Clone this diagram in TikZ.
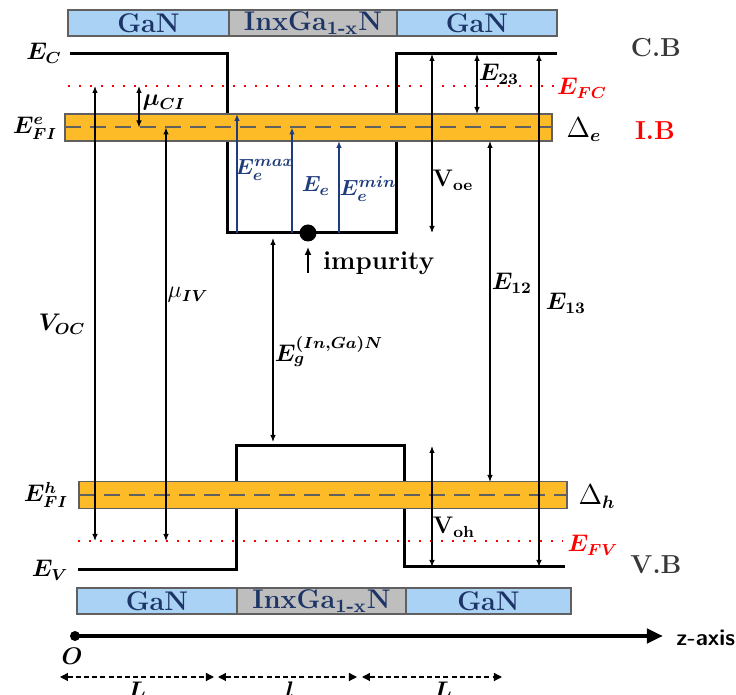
\documentclass[tikz,border=0pt]{standalone}
\usepackage{amsmath,bm}
\usepackage{xcolor}
\usepackage{tikz}
\usetikzlibrary{arrows.meta,positioning,calc}
\definecolor{barblue}{HTML}{AAD2F5}
\definecolor{bargray}{HTML}{BEBEBE}
\definecolor{barline}{HTML}{606060}
\definecolor{bandorange}{HTML}{FDBB27}
\definecolor{inknavy}{HTML}{1C3466}
\definecolor{arrownavy}{HTML}{1F3C7C}
\definecolor{tagblack}{HTML}{383838}
\tikzset{bar/.style={draw=barline,line width=0.8pt,minimum height=13pt,inner sep=0pt,
  outer sep=0pt,font=\fontsize{13.5}{15}\selectfont\bfseries,text=inknavy},
  band/.style={draw=barline,fill=bandorange,line width=0.6pt,minimum height=13.5pt,
  inner sep=0pt,outer sep=0pt},
  midline/.style={draw=barline,line width=1pt,dash pattern=on 8pt off 4.5pt},
  level/.style={line width=1.5pt,line join=miter},
  fermi/.style={red,line width=1.1pt,dash pattern=on 1.2pt off 4.3pt},
  dbl/.style={{Latex[length=3.5pt,width=2.8pt]}-{Latex[length=3.5pt,width=2.8pt]},line width=0.6pt},
  upb/.style={-{Latex[length=3.5pt,width=2.8pt]},line width=0.8pt,draw=arrownavy},
  dimarrow/.style={{Triangle[length=4pt,width=4pt]}-{Triangle[length=4pt,width=4pt]},
  dash pattern=on 2.5pt off 1.6pt,line width=0.6pt},
  lbl/.style={font=\fontsize{11.5}{13}\selectfont,inner sep=1pt},
  bluelbl/.style={font=\fontsize{11}{13}\selectfont,inner sep=0.5pt,text=arrownavy},
  tag/.style={font=\fontsize{13}{15}\selectfont\bfseries}}

\begin{document}
\begin{tikzpicture}[x=0.5pt,y=-0.5pt]
 \useasboundingbox (0,0) rectangle (736,695);
 % quasi Fermi levels
 \draw[fermi] (68,86) -- (556,86);
 \draw[fermi] (78,541) -- (563,541);
 % band edges
 \draw[level] (70,54) -- (228,54) -- (228,233) -- (397,233) -- (397,54) -- (557,54);
 \draw[level] (78,570) -- (237,570) -- (237,446) -- (405,446) -- (405,567) -- (565,567);
 % impurity bands
 \node[band,minimum width=243.5pt] (bande) at (308.5,127.5) {};
 \draw[midline] (bande.west) -- (bande.east);
 \node[band,minimum width=244pt] (bandh) at (323,495) {};
 \draw[midline] (bandh.west) -- (bandh.east);
 % layers
 \node[bar,fill=barblue,minimum width=80.5pt] (tg1) at (148.5,23) {GaN};
 \node[bar,fill=bargray,minimum width=84pt,right=0pt of tg1] (tin) {InxGa\textsubscript{1-x}N};
 \node[bar,fill=barblue,minimum width=80pt,right=0pt of tin] (tg2) {GaN};
 \node[bar,fill=barblue,minimum width=80pt] (bg1) at (157,601) {GaN};
 \node[bar,fill=bargray,minimum width=84.5pt,right=0pt of bg1] (bin) {InxGa\textsubscript{1-x}N};
 \node[bar,fill=barblue,minimum width=82.5pt,right=0pt of bin] (bg2) {GaN};
 % arrow ends
 \coordinate (voct) at (95,86);     \coordinate (vocb) at (95,541);
 \coordinate (muct) at (139,86);    \coordinate (mucb) at (139,127.5);
 \coordinate (muvt) at (166,127.5); \coordinate (muvb) at (166,541);
 \coordinate (emaxb) at (237,233);  \coordinate (emaxt) at (237,114);
 \coordinate (eeb) at (292,233);    \coordinate (eet) at (292,127.5);
 \coordinate (eminb) at (339,233);  \coordinate (emint) at (339,141);
 \coordinate (egt) at (273,238);    \coordinate (egb) at (273,442);
 \coordinate (voet) at (432,54);    \coordinate (voeb) at (432,233);
 \coordinate (e23t) at (477,54);    \coordinate (e23b) at (477,114);
 \coordinate (e12t) at (490,141);   \coordinate (e12b) at (490,482);
 \coordinate (e13t) at (539,54);    \coordinate (e13b) at (539,567);
 \coordinate (voht) at (432,446);   \coordinate (vohb) at (432,567);
 \coordinate (impb) at (308,273);
 \draw[dbl] (voct) -- (vocb);
 \draw[dbl] (muct) -- (mucb);
 \draw[dbl] (muvt) -- (muvb);
 \draw[dbl] (egt) -- (egb);
 \draw[dbl] (voet) -- (voeb);
 \draw[dbl] (e23t) -- (e23b);
 \draw[dbl] (e12t) -- (e12b);
 \draw[dbl] (e13t) -- (e13b);
 \draw[dbl] (voht) -- (vohb);
 \draw[upb] (emaxb) -- (emaxt);
 \draw[upb] (eeb) -- (eet);
 \draw[upb] (eminb) -- (emint);
 % impurity
 \node[circle,fill,inner sep=0pt,minimum size=8.5pt] (imp) at (308,233) {};
 \draw[-{Latex[length=4pt,width=3.4pt]},line width=1.1pt] (impb) -- ([yshift=-2.5pt]imp.south);
 \node[tag,anchor=west] (implbl) at (316,263) {impurity};
 % z axis
 \node[circle,fill,inner sep=0pt,minimum size=5pt] (orig) at (75,636) {};
 \coordinate (zend) at (663,636);
 \draw[line width=2pt,-{Triangle[length=8pt,width=7pt]}] (orig.center) -- (zend);
 \node[font=\fontsize{11.5}{14}\selectfont\sffamily\bfseries,anchor=west,inner sep=0pt] (zlbl) at (676,638) {z-axis};
 \node[lbl] (olbl) at (72,656) {$\bm{O}$};
 % widths
 \coordinate (d0) at (60,677);  \coordinate (d1) at (214,677);
 \coordinate (d2) at (218,677); \coordinate (d3) at (357,677);
 \coordinate (d4) at (362,677); \coordinate (d5) at (502,677);
 \draw[dimarrow] (d0) -- (d1);
 \draw[dimarrow] (d2) -- (d3);
 \draw[dimarrow] (d4) -- (d5);
 \node[lbl] (wl1) at (137,690) {$\bm{L}$};
 \node[lbl] (wl2) at (290,690) {$\bm{l}$};
 \node[lbl] (wl3) at (443,690) {$\bm{L}$};
 % labels
 \node[lbl] (ec) at (44,53) {$\bm{E_C}$};
 \node[lbl] (efie) at (35,128) {$\bm{E^{e}_{FI}}$};
 \node[lbl] (voc) at (62,324) {$\bm{V_{OC}}$};
 \node[lbl] (efih) at (46,495) {$\bm{E^{h}_{FI}}$};
 \node[lbl] (ev) at (50,570) {$\bm{E_V}$};
 \node[lbl] (muci) at (164,103) {$\bm{\mu_{CI}}$};
 \node[lbl] (muiv) at (188,295) {$\mu_{\bm{IV}}$};
 \node[bluelbl] (lmax) at (265,170) {$\bm{E_e^{max}}$};
 \node[bluelbl] (lee) at (316,186) {$\bm{E_e}$};
 \node[bluelbl] (lmin) at (368,189) {$\bm{E_e^{min}}$};
 \node[lbl] (eg) at (329,352) {$\bm{E_g^{(In,Ga)N}}$};
 \node[lbl] (voe) at (453,180) {$\mathbf{V}_{\mathbf{oe}}$};
 \node[lbl] (e23) at (499,74) {$\bm{E_{23}}$};
 \node[lbl] (e12) at (512,283) {$\bm{E_{12}}$};
 \node[lbl] (e13) at (566,303) {$\bm{E_{13}}$};
 \node[lbl] (voh) at (454,527) {$\mathbf{V}_{\mathbf{oh}}$};
 \node[lbl,text=red] (efc) at (582,88) {$\bm{E_{FC}}$};
 \node[lbl,text=red] (efv) at (593,545) {$\bm{E_{FV}}$};
 \node[lbl,font=\fontsize{13.5}{15}\selectfont] (de) at (584,130) {$\Delta_{\bm e}$};
 \node[lbl,font=\fontsize{13.5}{15}\selectfont] (dh) at (597,497) {$\Delta_{\bm h}$};
 \node[tag,text=tagblack] (cb) at (656,48) {C.B};
 \node[tag,text=red] (ib) at (655,131) {I.B};
 \node[tag,text=tagblack] (vb) at (656,565) {V.B};
\end{tikzpicture}
\end{document}
